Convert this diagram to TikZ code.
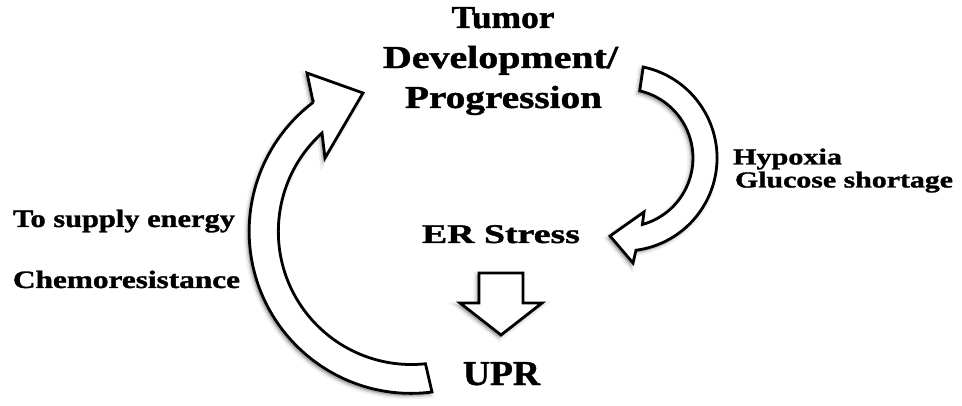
\documentclass[tikz,border=0pt]{standalone}
\usepackage{fontspec}
\setmainfont{Liberation Serif}[BoldFeatures={FakeBold=1.2}]
\usepackage{graphicx}
\newcommand\fitlbl[3]{\resizebox{#1pt}{\height}{\fontsize{#2pt}{#2pt}\selectfont\bfseries #3}}
\tikzset{
  lbl/.style={inner sep=0pt, outer sep=0pt, text=black},
  blockarrow/.style={draw=black, fill=white, line width=2.8pt, line join=miter},
  shadowsoft/.style={draw=black, fill=black, line width=7pt, opacity=0.06, shift={(-2,2.5)}},
  shadowcore/.style={draw=black, fill=black, line width=3pt, opacity=0.12, shift={(-2,2.5)}},
  leftshape/.style={insert path={(313.2,102.4) -- (307,73) -- (363,93) -- (325,158) -- (322,133)
      arc[start angle=227.8, end angle=83.9, radius=133] -- (432,392)
      arc[start angle=82.6, end angle=232.8, radius=162] -- cycle}},
  rightshape/.style={insert path={(643.2,67) arc[start angle=-78.1, end angle=82.6, radius=93]
      -- (633,263) -- (610,236) -- (644,212) -- (642.4,224.5)
      arc[start angle=74.5, end angle=-76.8, radius=69] -- cycle}},
  downshape/.style={insert path={(479,273) -- (523,273) -- (523,303) -- (542,303) -- (501,335)
      -- (460,303) -- (479,303) -- cycle}}
}
\begin{document}
\begin{tikzpicture}[x=1pt,y=-1pt]
\path[use as bounding box, fill=white] (0,0) rectangle (962,406);

% shadows
\path[shadowsoft, leftshape];
\path[shadowcore, leftshape];
\path[shadowsoft, rightshape];
\path[shadowcore, rightshape];
\path[shadowsoft, downshape];
\path[shadowcore, downshape];

% block arrows
\path[blockarrow, leftshape];
\path[blockarrow, rightshape];
\path[blockarrow, downshape];

% labels
\node[lbl, anchor=base] (tumor) at (503,28) {\fitlbl{103}{32}{Tumor}};
\node[lbl, anchor=base] (dev) at (500.5,68) {\fitlbl{235}{32}{Development/}};
\node[lbl, anchor=base] (prog) at (503.5,108) {\fitlbl{197}{32}{Progression}};
\node[lbl, anchor=base] (er) at (501,243) {\fitlbl{158}{27}{ER Stress}};
\node[lbl, anchor=base] (upr) at (501.5,385) {\fitlbl{77}{35}{UPR}};
\node[lbl, anchor=base west] (energy) at (13,227) {\fitlbl{222}{25}{To supply energy}};
\node[lbl, anchor=base west] (chemo) at (13,288) {\fitlbl{227}{25}{Chemoresistance}};
\node[lbl, anchor=base west] (hyp) at (733,164.5) {\fitlbl{109}{23}{Hypoxia}};
\node[lbl, anchor=base west] (glu) at (735,187.5) {\fitlbl{218}{23}{Glucose shortage}};
\end{tikzpicture}
\end{document}
